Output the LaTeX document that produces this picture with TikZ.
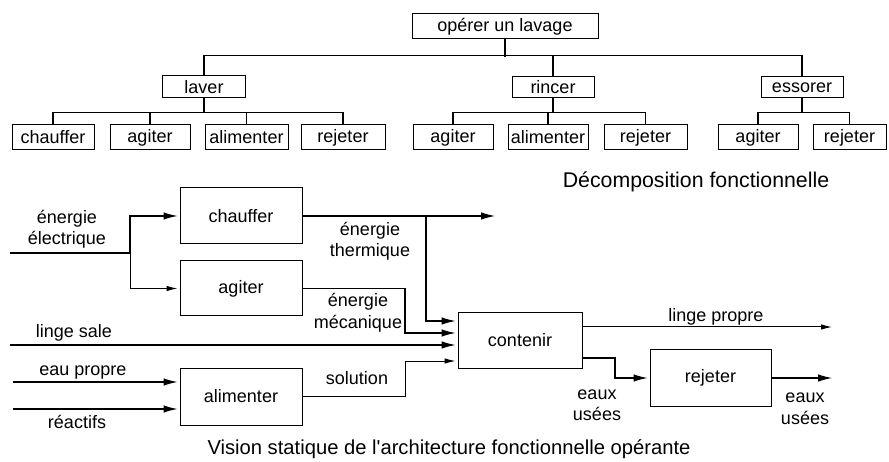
\documentclass[tikz,border=0pt]{standalone}
\usepackage{fontspec}
\setmainfont{Liberation Sans}
\usetikzlibrary{arrows.meta}
\begin{document}
\begin{tikzpicture}[x=1pt,y=-1pt,
  every node/.style={inner sep=0pt, font=\fontsize{18}{21.5}\selectfont},
  box/.style={draw, line width=1pt},
  lbl/.style={align=center},
  ln/.style={line width=1.1pt},
  arr/.style={line width=1.1pt, -{Latex[length=14pt,width=7.5pt]}, shorten >=2pt},
  arrs/.style={line width=1pt, -{Latex[length=11pt,width=5.5pt]}, shorten >=2pt}]
\useasboundingbox (0,0) rectangle (889,462);
% ---------- Decomposition tree ----------
\node[box, minimum width=186pt, minimum height=25pt] (top) at (505,26.5) {opérer un lavage};
\node[box, minimum width=83pt, minimum height=22pt] (laver) at (204,87) {laver};
\node[box, minimum width=82pt, minimum height=21pt] (rincer) at (553,87.5) {rincer};
\node[box, minimum width=82pt, minimum height=21pt] (essorer) at (802,87.5) {essorer};
\begin{scope}[every node/.append style={box, minimum height=25pt}]
\node[minimum width=82pt] (l1) at (53,137.5) {chauffer};
\node[minimum width=80pt] (l2) at (150,137.5) {agiter};
\node[minimum width=83pt] (l3) at (246.5,137.5) {alimenter};
\node[minimum width=84pt] (l4) at (343,137.5) {rejeter};
\node[minimum width=80pt] (r1) at (453,137.5) {agiter};
\node[minimum width=80pt] (r2) at (548,137.5) {alimenter};
\node[minimum width=83pt] (r3) at (645.5,137.5) {rejeter};
\node[minimum width=80pt] (e1) at (758,137.5) {agiter};
\node[minimum width=73pt] (e2) at (849.5,137.5) {rejeter};
\end{scope}
\draw[ln] (top.south) -- ++(0,17.5);
\draw[ln] (laver.north) -- ++(0,-20) -| (essorer.north);
\draw[ln] (rincer.north) -- ++(0,-21);
\draw[ln] (laver.south) -- ++(0,15);
\draw[ln] (l1.north) -- ++(0,-12) -| (l4.north);
\draw[ln] (l2.north) -- ++(0,-12);
\draw[ln] (l3.north) -- ++(0,-12);
\draw[ln] (rincer.south) -- ++(0,15);
\draw[ln] (r1.north) -- ++(0,-12) -| (r3.north);
\draw[ln] (r2.north) -- ++(0,-12);
\draw[ln] (essorer.south) -- ++(0,15);
\draw[ln] (e1.north) -- ++(0,-12) -| (e2.north);
\node[font=\fontsize{21.3}{25}\selectfont] (dec) at (696,182) {Décomposition fonctionnelle};
% ---------- Static architecture ----------
\node[box, minimum width=122pt, minimum height=56pt] (chauffer) at (241,216) {chauffer};
\node[box, minimum width=122pt, minimum height=55pt] (agiter) at (241,288.5) {agiter};
\node[box, minimum width=122pt, minimum height=57pt] (alimenter) at (241,396.5) {alimenter};
\node[box, minimum width=124pt, minimum height=55pt] (contenir) at (520,340.5) {contenir};
\node[box, minimum width=121pt, minimum height=56pt] (rejeter) at (710.5,378) {rejeter};
% free ends and bends
\coordinate (ein) at (10,253);
\coordinate (esplit) at (130,253);
\coordinate (thout) at (497,216);
\coordinate (thb) at (426,216);
\coordinate (mb) at (405,333);
\coordinate (sb) at (405,361);
\coordinate (lsin) at (10,345);
\coordinate (epin) at (13,382);
\coordinate (rein) at (13,409);
\coordinate (lpout) at (834,327);
\coordinate (eub) at (615,378);
\coordinate (euout) at (834,378);
\draw[ln] (ein) -- (esplit);
\draw[arr] (esplit) |- (chauffer.west);
\draw[arrs] (esplit) |- (agiter.west);
\draw[arr] (chauffer.east) -- (thout);
\draw[arr] (thb) |- ([yshift=19.5pt]contenir.west);
\draw[arr] (agiter.east) -| (mb) -- ([yshift=7.5pt]contenir.west);
\draw[arr] (lsin) -- ([yshift=-4.5pt]contenir.west);
\draw[arrs] (alimenter.east) -| (sb) -- ([yshift=-20.5pt]contenir.west);
\draw[arr] (epin) -- ([yshift=14.5pt]alimenter.west);
\draw[arr] (rein) -- ([yshift=-12.5pt]alimenter.west);
\draw[arrs] ([yshift=13.5pt]contenir.east) -- (lpout);
\draw[arr] ([yshift=-17.5pt]contenir.east) -| (eub) -- (rejeter.west);
\draw[arr] (rejeter.east) -- (euout);
% labels
\node[lbl] (t1) at (67,229) {énergie\\électrique};
\node[lbl] (t2) at (370,241) {énergie\\thermique};
\node[lbl] (t3) at (358,312.5) {énergie\\mécanique};
\node (t4) at (74,333) {linge sale};
\node (t5) at (357,378) {solution};
\node (t6) at (83,373) {eau propre};
\node (t7) at (77,422) {réactifs};
\node (t8) at (716,317) {linge propre};
\node[lbl] (t9) at (597,405) {eaux\\usées};
\node[lbl] (t10) at (805,408.5) {eaux\\usées};
\node[font=\fontsize{20.2}{24}\selectfont] (vis) at (449,449) {Vision statique de l\textquotesingle architecture fonctionnelle opérante};
\end{tikzpicture}
\end{document}
